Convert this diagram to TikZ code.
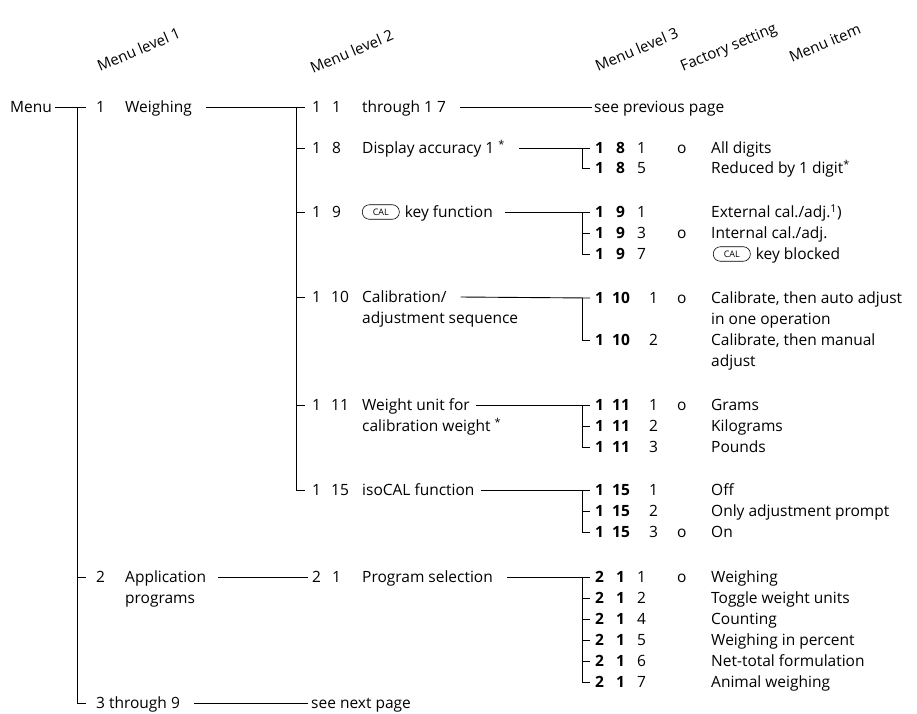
\documentclass[tikz,border=0pt]{standalone}
\usepackage{fontspec}
\setmainfont{Open Sans}
\newcommand\fs{\fontsize{15.5}{18}\selectfont}
\newcommand\lrow[7]{%
  \node[bnum] (#1a) at (595,#2) {#5};
  \node[bnum] (#1b) at (#3,#2) {#6};
  \node (#1c) at (#4,#2) {#7};}
\begin{document}
\begin{tikzpicture}[x=1pt,y=-1pt,
  every node/.style={inner sep=0pt,anchor=west,text height=11pt,text depth=0pt,font=\fs},
  hdr/.style={anchor=base west,rotate=23,font=\fontsize{15}{17}\selectfont},
  bnum/.style={font=\fs\bfseries},
  calkey/.style={draw,line width=0.6pt,rounded corners=7pt,minimum width=37pt,minimum height=14.5pt,
    text height=6.3pt,text depth=0pt,font=\fontsize{9}{10}\selectfont,anchor=west,inner sep=0pt},
  wire/.style={line width=0.9pt}]
\useasboundingbox (0,0) rectangle (917,713);

% headers
\node[hdr] (h1) at (100,72) {Menu level 1};
\node[hdr] (h2) at (313,74) {Menu level 2};
\node[hdr] (h3) at (598,72) {Menu level 3};
\node[hdr] (h4) at (683,72) {Factory setting};
\node[hdr] (h5) at (792,63) {Menu item};

% level 1
\node[anchor=east] (menu) at (52,107) {Menu};
\node (n1) at (96,107) {1};
\node (weigh) at (125,107) {Weighing};
\node (n2) at (96,577) {2};
\node (appl) at (125,577) {Application};
\node (progs) at (125,598) {programs};
\node (n39) at (96,703) {3 through 9};

\coordinate (t1x) at (77,107);
\draw[wire] ([xshift=3pt]menu.east) -- ([xshift=-10pt]n1.west);
\draw[wire] (t1x) |- ([xshift=-10pt]n39.west);
\draw[wire] (n2.west -| t1x) -- ([xshift=-10pt]n2.west);

% level 2
\node (b1n1) at (312,107) {1};  \node (b1n2) at (332,107) {1};  \node (b1t) at (362,107) {through 1 7};
\node (b8n1) at (312,148) {1};  \node (b8n2) at (332,148) {8};  \node (b8t) at (362,148) {Display accuracy 1 \textsuperscript{*}};
\node (b9n1) at (312,212) {1};  \node (b9n2) at (332,212) {9};
\node[calkey] (cal1) at (362,212) {CAL};
\node (b9t) at ([xshift=5pt]cal1.east) {key function};
\node (b10n1) at (312,297) {1}; \node (b10n2) at (331,297) {10}; \node (b10t) at (362,297) {Calibration/};
\node (b10u) at (362,318) {adjustment sequence};
\node (b11n1) at (312,405) {1}; \node (b11n2) at (331,405) {11}; \node (b11t) at (362,405) {Weight unit for};
\node (b11u) at (362,426) {calibration weight \textsuperscript{*}};
\node (b15n1) at (312,490) {1}; \node (b15n2) at (331,490) {15}; \node (b15t) at (362,490) {isoCAL function};
\node (b21n1) at (312,577) {2}; \node (b21n2) at (332,577) {1};  \node (b21t) at (362,577) {Program selection};
\node (bnext) at (311,703) {see next page};
\node (bprev) at (594,107) {see previous page};

\coordinate (t2x) at (296,107);
\draw[wire] ([xshift=14pt]weigh.east) -- ([xshift=-7pt]b1n1.west);
\draw[wire] (t2x) |- ([xshift=-7pt]b15n1.west);
\foreach \r in {b8n1,b9n1,b10n1,b11n1}
  \draw[wire] (\r.west -| t2x) -- ([xshift=-7pt]\r.west);
\draw[wire] ([xshift=12pt]appl.east) -- ([xshift=-4pt]b21n1.west);
\draw[wire] ([xshift=14pt]n39.east) -- ([xshift=-3pt]bnext.west);
\draw[wire] ([xshift=14pt]b1t.east) -- ([xshift=-2pt]bprev.west);

% level 3
\lrow{r181}{148}{616}{637}{1}{8}{1}
\lrow{r185}{168}{616}{637}{1}{8}{5}
\lrow{r191}{212}{616}{637}{1}{9}{1}
\lrow{r193}{233}{616}{637}{1}{9}{3}
\lrow{r197}{254}{616}{637}{1}{9}{7}
\lrow{r101}{298}{612}{649}{1}{10}{1}
\lrow{r102}{340}{612}{649}{1}{10}{2}
\lrow{r111}{405}{612}{649}{1}{11}{1}
\lrow{r112}{426}{612}{649}{1}{11}{2}
\lrow{r113}{447}{612}{649}{1}{11}{3}
\lrow{r151}{490}{612}{649}{1}{15}{1}
\lrow{r152}{511}{612}{649}{1}{15}{2}
\lrow{r153}{532}{612}{649}{1}{15}{3}
\lrow{r211}{577}{616}{637}{2}{1}{1}
\lrow{r212}{598}{616}{637}{2}{1}{2}
\lrow{r214}{619}{616}{637}{2}{1}{4}
\lrow{r215}{640}{616}{637}{2}{1}{5}
\lrow{r216}{661}{616}{637}{2}{1}{6}
\lrow{r217}{682}{616}{637}{2}{1}{7}

% factory settings
\foreach \n/\y in {f181/148,f193/233,f101/298,f111/405,f153/532,f211/577}
  \node (\n) at (677,\y) {o};

% menu items
\node (i181) at (711,148) {All digits};
\node (i185) at (711,168) {Reduced by 1 digit\textsuperscript{*}};
\node (i191) at (711,212) {External cal./adj.\textsuperscript{1})};
\node (i193) at (711,233) {Internal cal./adj.};
\node[calkey] (cal2) at (713,254) {CAL};
\node (i197) at ([xshift=5pt]cal2.east) {key blocked};
\node (i101) at (711,298) {Calibrate, then auto adjust};
\node (i101b) at (711,319) {in one operation};
\node (i102) at (711,340) {Calibrate, then manual};
\node (i102b) at (711,361) {adjust};
\node (i111) at (711,405) {Grams};
\node (i112) at (711,426) {Kilograms};
\node (i113) at (711,447) {Pounds};
\node (i151) at (711,490) {Off};
\node (i152) at (711,511) {Only adjustment prompt};
\node (i153) at (711,532) {On};
\node (i211) at (711,577) {Weighing};
\node (i212) at (711,598) {Toggle weight units};
\node (i214) at (711,619) {Counting};
\node (i215) at (711,640) {Weighing in percent};
\node (i216) at (711,661) {Net-total formulation};
\node (i217) at (711,682) {Animal weighing};

% brackets
\coordinate (t3x) at (582,0);
\draw[wire] ([xshift=14pt]b8t.east) -- ([xshift=-5pt]r181a.west);
\draw[wire] (r181a.west -| t3x) |- ([xshift=-5pt]r185a.west);

\draw[wire] ([xshift=12pt]b9t.east) -- ([xshift=-5pt]r191a.west);
\draw[wire] (r191a.west -| t3x) |- ([xshift=-5pt]r197a.west);
\draw[wire] (r193a.west -| t3x) -- ([xshift=-5pt]r193a.west);

\draw[wire] ([xshift=14pt]b10t.east) -- ([xshift=-5pt]r101a.west);
\draw[wire] (r101a.west -| t3x) |- ([xshift=-5pt]r102a.west);

\draw[wire] ([xshift=6pt]b11t.east) -- ([xshift=-5pt]r111a.west);
\draw[wire] (r111a.west -| t3x) |- ([xshift=-5pt]r113a.west);
\draw[wire] (r112a.west -| t3x) -- ([xshift=-5pt]r112a.west);

\draw[wire] ([xshift=6pt]b15t.east) -- ([xshift=-5pt]r151a.west);
\draw[wire] (r151a.west -| t3x) |- ([xshift=-5pt]r153a.west);
\draw[wire] (r152a.west -| t3x) -- ([xshift=-5pt]r152a.west);

\draw[wire] ([xshift=14pt]b21t.east) -- ([xshift=-5pt]r211a.west);
\draw[wire] (r211a.west -| t3x) |- ([xshift=-5pt]r217a.west);
\foreach \r in {r212a,r214a,r215a,r216a}
  \draw[wire] (\r.west -| t3x) -- ([xshift=-5pt]\r.west);
\end{tikzpicture}
\end{document}
